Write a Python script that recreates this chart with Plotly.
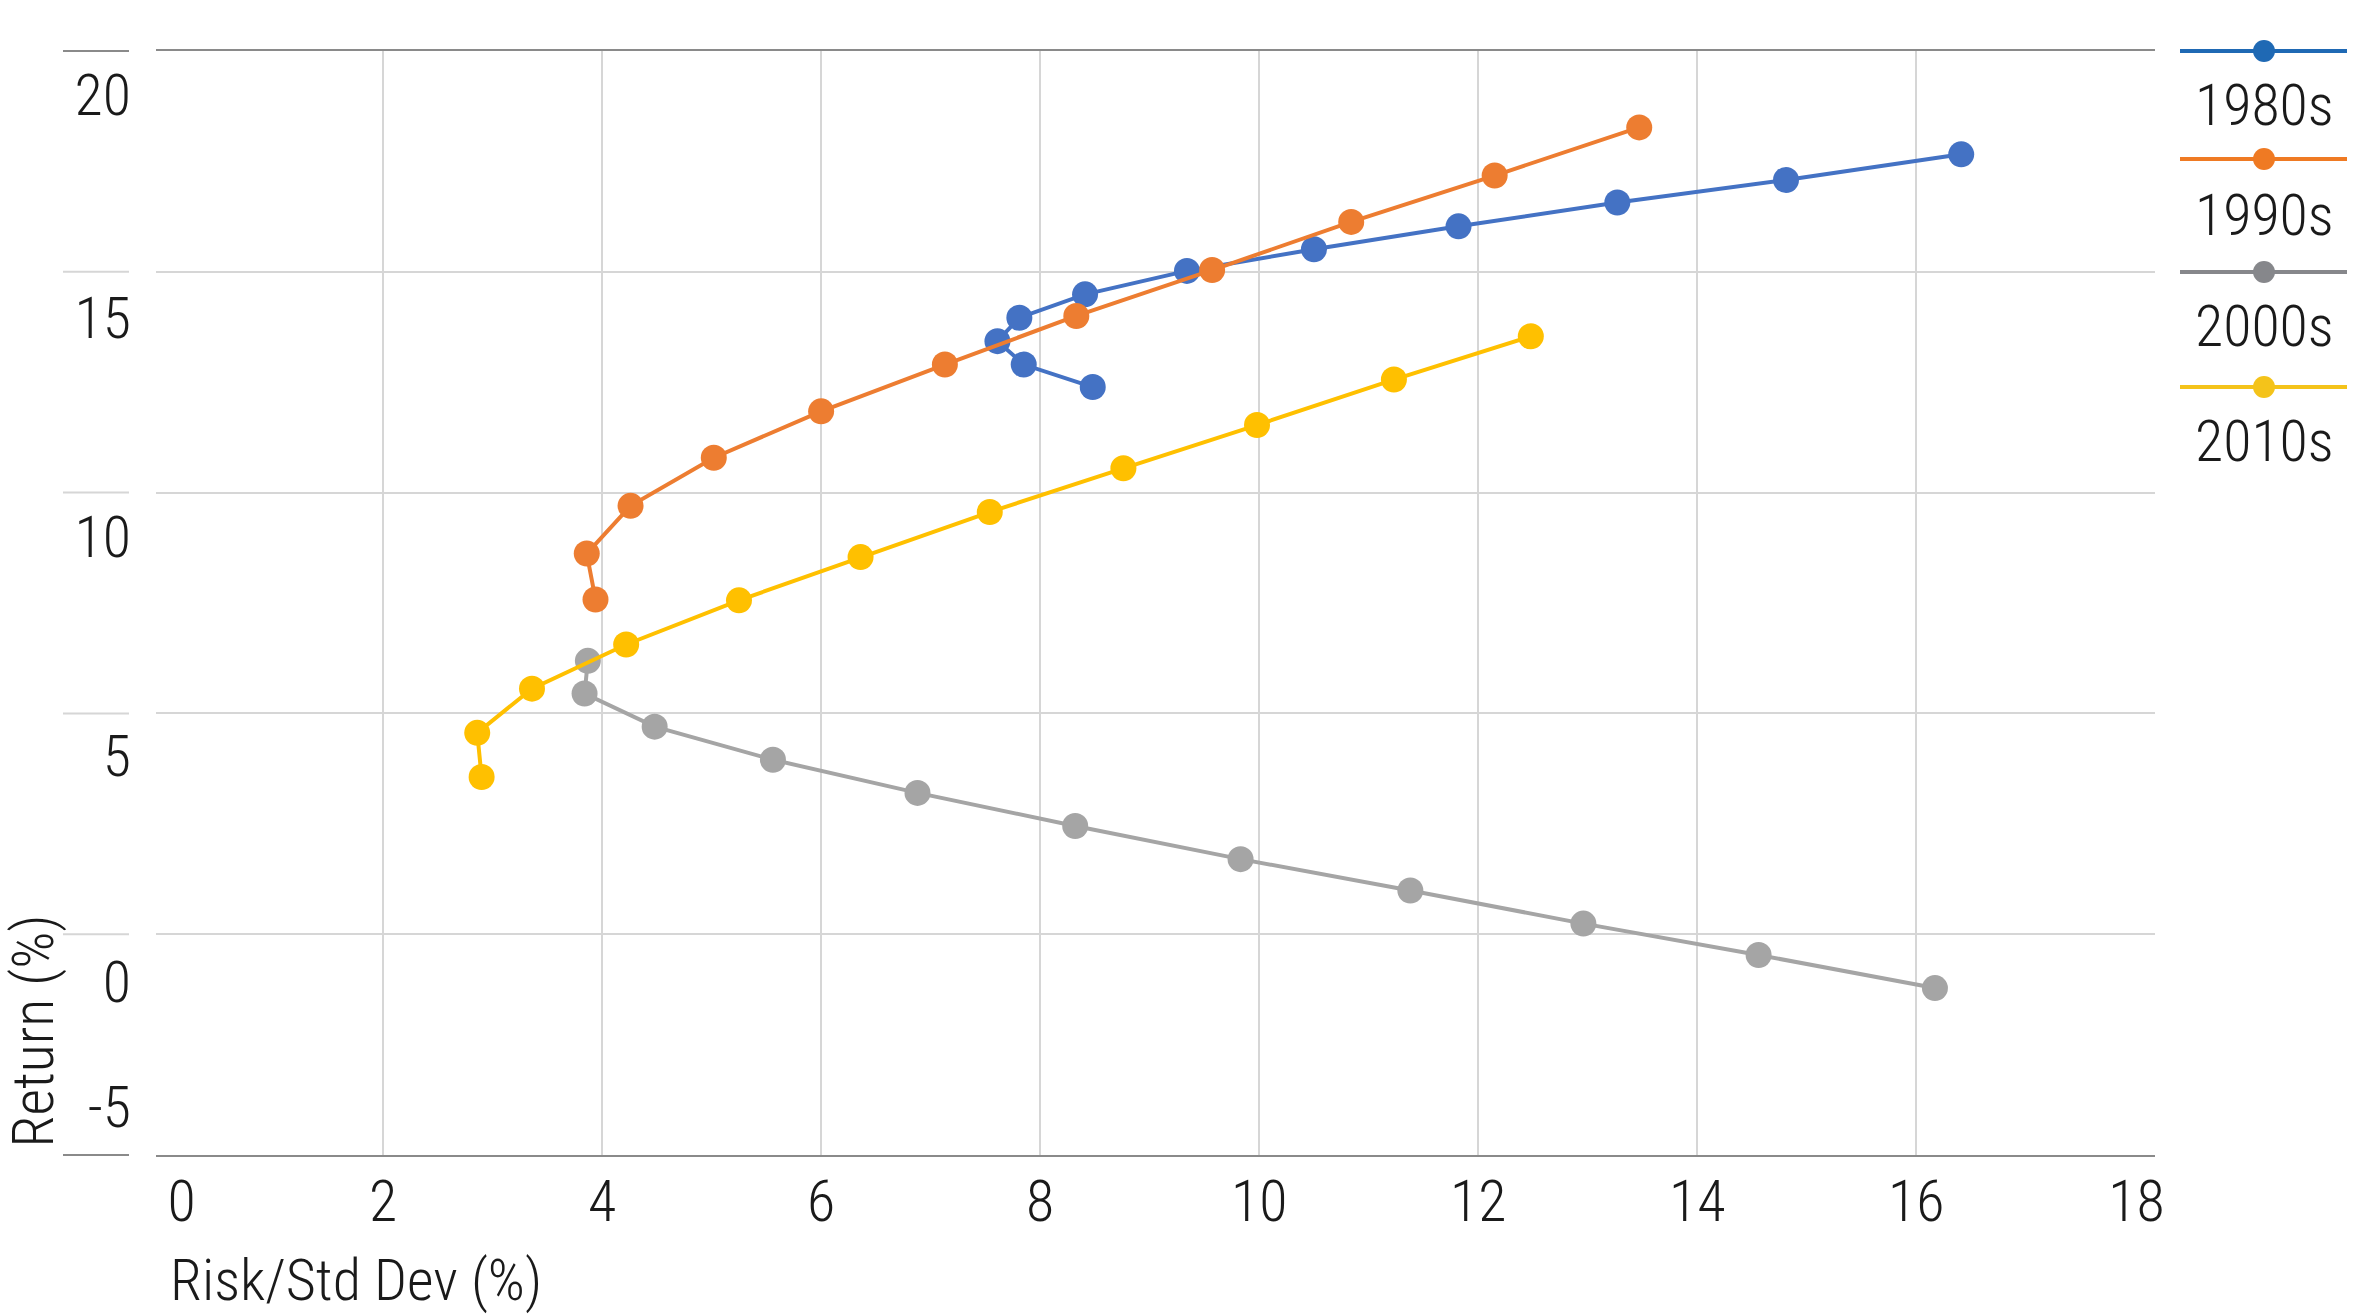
import plotly.graph_objects as go

# ---------------- data ----------------
series_names = ["1980s", "1990s", "2000s", "2010s"]

risk_1980s = [8.48, 7.85, 7.61, 7.81, 8.41, 9.34, 10.50, 11.82, 13.27, 14.81, 16.41]
ret_1980s = [12.39, 12.90, 13.43, 13.96, 14.49, 15.02, 15.51, 16.03, 16.57, 17.08, 17.66]

risk_1990s = [3.94, 3.86, 4.26, 5.02, 6.00, 7.13, 8.33, 9.57, 10.84, 12.15, 13.47]
ret_1990s = [7.58, 8.62, 9.70, 10.79, 11.84, 12.90, 14.00, 15.04, 16.13, 17.18, 18.27]

risk_2000s = [16.17, 14.56, 12.96, 11.38, 9.83, 8.32, 6.88, 5.56, 4.48, 3.84, 3.87]
ret_2000s = [-1.22, -0.47, 0.24, 0.99, 1.70, 2.45, 3.20, 3.95, 4.70, 5.45, 6.19]

risk_2010s = [2.90, 2.86, 3.36, 4.22, 5.25, 6.36, 7.54, 8.76, 9.98, 11.23, 12.48]
ret_2010s = [3.56, 4.56, 5.56, 6.56, 7.56, 8.54, 9.56, 10.55, 11.53, 12.56, 13.54]

x_tick_text = ["0", "2", "4", "6", "8", "10", "12", "14", "16", "18"]
x_label_pos = [0.16, 2, 4, 6, 8, 10, 12, 14, 16, 18.01]
x_grid_vals = [2, 4, 6, 8, 10, 12, 14, 16]
y_tick_text = ["20", "15", "10", "5", "0", "-5"]
y_label_pos = [19.0, 13.97, 9.0, 4.05, -1.07, -3.91]
y_grid_vals = [0, 5, 10, 15]

x_title = "Risk/Std Dev (%)"
y_title = "Return (%)"

# ---------------- styles ----------------
W, H = 2355, 1315
L, R, T, B = 156, 2155, 51, 1155  # plot area in px
FONT = "Roboto Condensed, Liberation Sans Narrow, DejaVu Sans Condensed, Arial Narrow, sans-serif"
FS = 58
FW = 300
TXT = "#1a1a1a"

plot_colors = ["#4472C4", "#ED7D31", "#A5A5A5", "#FFC000"]
legend_colors = ["#1F69B4", "#EF7A23", "#86878B", "#F4C31A"]

xs = [risk_1980s, risk_1990s, risk_2000s, risk_2010s]
ys = [ret_1980s, ret_1990s, ret_2000s, ret_2010s]


def px_x(p):
    return (p - L) / (R - L)


def px_y(p):
    return (B - p) / (B - T)


def tfont():
    return dict(family=FONT, size=FS, color=TXT, weight=FW)


fig = go.Figure()
for name, x, y, c in zip(series_names, xs, ys, plot_colors):
    fig.add_trace(go.Scatter(
        x=x, y=y, name=name, mode="lines+markers",
        line=dict(color=c, width=4),
        marker=dict(color=c, size=26),
        showlegend=False, hoverinfo="x+y+name",
    ))

# invisible trace to activate the secondary axes
fig.add_trace(go.Scatter(x=[None], y=[None], xaxis="x2", yaxis="y2", showlegend=False))

x_range = [(L - 164) / 109.52, (R - 164) / 109.52]

fig.update_layout(
    width=W, height=H,
    margin=dict(l=L, r=W - R, t=T, b=H - B, pad=0),
    paper_bgcolor="white", plot_bgcolor="white",
    font=tfont(),
    showlegend=False,
    xaxis=dict(
        range=x_range, tickvals=x_grid_vals, showticklabels=False,
        showgrid=True, gridcolor="#D6D6D6", gridwidth=2,
        zeroline=False, showline=True, linecolor="#8A8A8A", linewidth=2, mirror=True,
        ticks="",
    ),
    xaxis2=dict(
        range=x_range, overlaying="x", anchor="y", side="bottom",
        tickvals=x_label_pos, ticktext=x_tick_text,
        showgrid=False, zeroline=False, showline=False, ticks="",
        ticklabelstandoff=7,
        tickfont=tfont(),
    ),
    yaxis=dict(
        range=[-5, 20], tickvals=y_grid_vals, showticklabels=False,
        showgrid=True, gridcolor="#D6D6D6", gridwidth=2,
        zeroline=False, showline=False, ticks="",
    ),
    yaxis2=dict(
        range=[-5, 20], overlaying="y", anchor="x", side="left",
        tickvals=y_label_pos, ticktext=y_tick_text,
        showgrid=False, zeroline=False, showline=False, ticks="",
        ticklabelstandoff=24,
        tickfont=tfont(),
    ),
)

shapes = []
# short lines to the left of the plot, aligned with gridlines
for yv in [-5, 0, 5, 10, 15, 20]:
    dark = yv in (-5, 20)
    shapes.append(dict(
        type="line", xref="paper", yref="paper",
        x0=px_x(63), x1=px_x(129), y0=(yv + 5) / 25, y1=(yv + 5) / 25,
        line=dict(color="#8A8A8A" if dark else "#D6D6D6", width=2),
    ))

annotations = []
# custom legend
leg_line_y = [51, 159, 272, 387]
leg_text_y = [105, 215, 326, 441]
for name, c, ly, ty in zip(series_names, legend_colors, leg_line_y, leg_text_y):
    shapes.append(dict(
        type="line", xref="paper", yref="paper",
        x0=px_x(2180), x1=px_x(2347), y0=px_y(ly), y1=px_y(ly),
        line=dict(color=c, width=4),
    ))
    shapes.append(dict(
        type="circle", xref="paper", yref="paper",
        xsizemode="pixel", ysizemode="pixel",
        xanchor=px_x(2264), yanchor=px_y(ly),
        x0=-11, x1=11, y0=-11, y1=11,
        fillcolor=c, line=dict(color=c, width=0),
    ))
    annotations.append(dict(
        text=name, xref="paper", yref="paper",
        x=px_x(2264), y=px_y(ty), xanchor="center", yanchor="middle",
        showarrow=False, font=tfont(),
    ))

# axis titles
annotations.append(dict(
    text=x_title, xref="paper", yref="paper",
    x=px_x(168), y=px_y(1280), xanchor="left", yanchor="middle",
    showarrow=False, font=tfont(),
))
annotations.append(dict(
    text=y_title, xref="paper", yref="paper", textangle=-90,
    x=px_x(32), y=px_y(1150), xanchor="center", yanchor="bottom",
    showarrow=False, font=tfont(),
))

fig.update_layout(shapes=shapes, annotations=annotations)

fig.write_html("out.html")
